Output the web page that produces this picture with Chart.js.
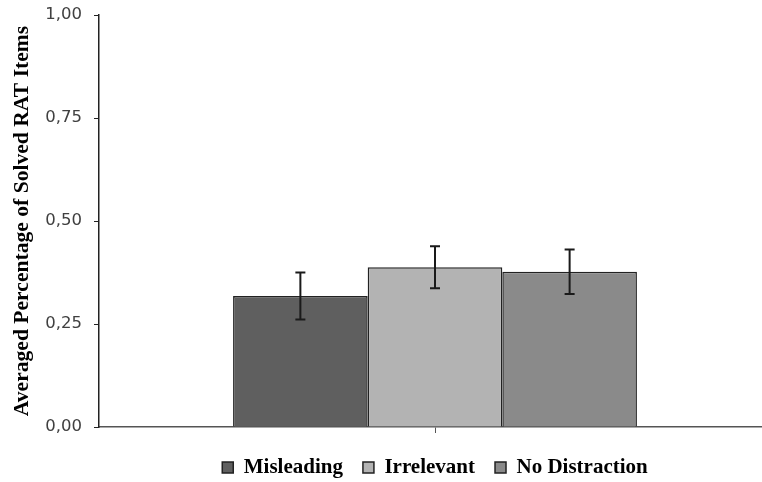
<!DOCTYPE html>
<html>
<head>
<meta charset="utf-8">
<script src="https://cdn.jsdelivr.net/npm/chart.js@4"></script>
<style>
  html, body { margin: 0; padding: 0; background: #fff; }
  #frame { width: 762px; height: 482px; overflow: hidden; }
  #box { width: 771px; height: 482px; position: relative; }
</style>
</head>
<body>
<div id="frame"><div id="box"><canvas id="grafico"></canvas></div></div>
<script>
// dados
const categorias = [''];
const series = ['Misleading', 'Irrelevant', 'No Distraction'];
const medias = [0.318, 0.388, 0.377];
const erros = [0.057, 0.051, 0.054];
const cores = ['#5f5f5f', '#b3b3b3', '#8a8a8a'];
const ticksY = [0, 0.25, 0.5, 0.75, 1];

// barras de erro desenhadas pela escala y
const barrasErro = {
  id: 'barrasErro',
  afterDatasetsDraw(chart) {
    const ctx = chart.ctx;
    const y = chart.scales.y;
    ctx.save();
    ctx.strokeStyle = '#1a1a1a';
    ctx.lineWidth = 2;
    chart.data.datasets.forEach((ds, i) => {
      const bar = chart.getDatasetMeta(i).data[0];
      const topo = y.getPixelForValue(ds.data[0] + erros[i]);
      const base = y.getPixelForValue(ds.data[0] - erros[i]);
      ctx.beginPath();
      ctx.moveTo(bar.x, topo); ctx.lineTo(bar.x, base);
      ctx.moveTo(bar.x - 5, topo); ctx.lineTo(bar.x + 5, topo);
      ctx.moveTo(bar.x - 5, base); ctx.lineTo(bar.x + 5, base);
      ctx.stroke();
    });
    ctx.restore();
  }
};

const ctx = document.getElementById('grafico').getContext('2d');

new Chart(ctx, {
  type: 'bar',
  data: {
    labels: categorias,
    datasets: series.map((nome, i) => ({
      label: nome,
      data: [medias[i]],
      backgroundColor: cores[i],
      borderColor: '#222',
      borderWidth: 1.5,
      barPercentage: 1,
      categoryPercentage: 0.601
    }))
  },
  options: {
    responsive: true,
    maintainAspectRatio: false,
    animation: false,
    layout: { padding: { top: 15, left: 0, right: 0, bottom: 0 } },
    scales: {
      x: {
        grid: { display: true, drawOnChartArea: false, drawTicks: true, tickLength: 6, offset: false, color: '#555' },
        border: { display: true, color: '#555', width: 1.5 },
        ticks: { display: false },
        afterFit: (s) => { s.height = 10; }
      },
      y: {
        min: 0,
        max: 1,
        afterBuildTicks: (s) => { s.ticks = ticksY.map(v => ({ value: v })); },
        ticks: {
          padding: 12,
          color: '#404040',
          font: { family: 'DejaVu Sans', size: 16.5 },
          callback: (v) => v.toFixed(2).replace('.', ',')
        },
        grid: { drawOnChartArea: false, drawTicks: true, tickLength: 5, color: '#222' },
        border: { display: true, color: '#222', width: 1.5 },
        title: {
          display: true,
          text: 'Averaged Percentage of Solved RAT Items',
          color: '#000',
          padding: { top: 9, bottom: 0 },
          font: { family: 'Liberation Serif', size: 21.6, weight: 'bold' }
        },
        afterFit: (s) => { s.width = 99; s.paddingTop = 0; s.paddingBottom = 0; }
      }
    },
    plugins: {
      legend: {
        position: 'bottom',
        fullSize: false,
        maxHeight: 45,
        labels: {
          color: '#000',
          boxWidth: 11,
          boxHeight: 11,
          padding: 20,
          font: { family: 'Liberation Serif', size: 21, weight: 'bold' }
        }
      },
      tooltip: { enabled: false }
    }
  },
  plugins: [barrasErro]
});
</script>
</body>
</html>
